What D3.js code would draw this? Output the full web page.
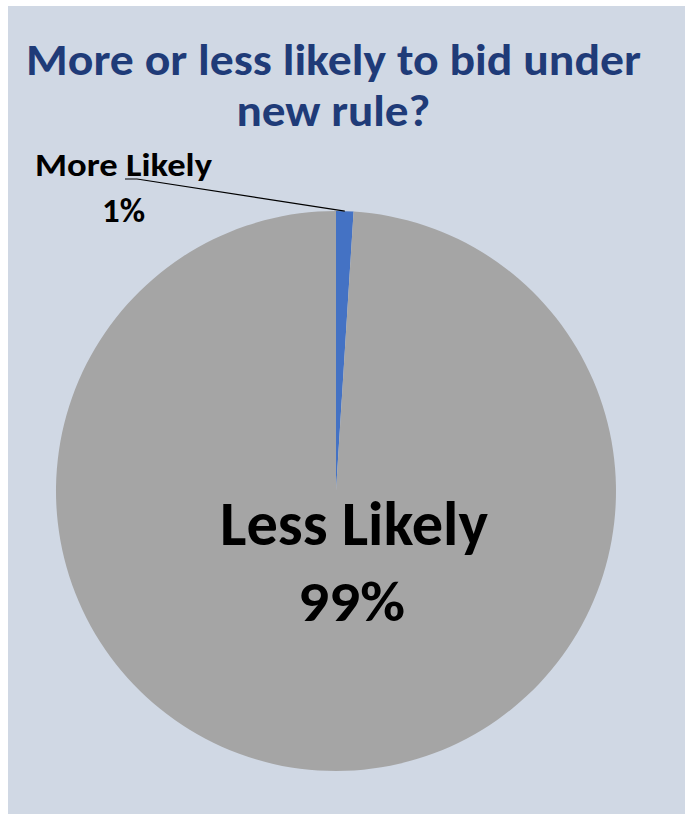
<!DOCTYPE html>
<html>
<head>
<meta charset="utf-8">
<script src="https://cdn.jsdelivr.net/npm/d3@7"></script>
<style>
  html, body { margin: 0; padding: 0; background: #ffffff; }
  svg { display: block; }
  text { font-family: Carlito, Calibri, "Open Sans", sans-serif; font-weight: bold; }
</style>
</head>
<body>
<svg id="chart" width="685" height="814"></svg>
<script>
const titleLines = ["More or less likely to bid under", "new rule?"];
const categories = ["More Likely", "Less Likely"];
const values = [1, 99];
const percentLabels = ["1%", "99%"];
const colors = ["#4472C4", "#A5A5A5"];

const svg = d3.select("#chart");
const W = 685, H = 814;

svg.append("rect")
  .attr("x", 8).attr("y", 6)
  .attr("width", W - 8).attr("height", H - 6)
  .attr("fill", "#D0D8E4");

// Title
const titleSpec = [
  { y: 75, width: 615, size: 45 },
  { y: 126, width: 194, size: 45 }
];
titleLines.forEach((t, i) => {
  svg.append("text")
    .attr("x", 333.5).attr("y", titleSpec[i].y)
    .attr("text-anchor", "middle")
    .attr("font-size", titleSpec[i].size)
    .attr("fill", "#1F3B78")
    .attr("textLength", titleSpec[i].width)
    .attr("lengthAdjust", "spacingAndGlyphs")
    .text(t);
});

// Pie
const cx = 336, cy = 491, r = 280;
const data = categories.map((c, i) => ({ cat: c, value: values[i], pct: percentLabels[i], color: colors[i] }));
const pie = d3.pie().value(d => d.value).sort(null);
const arcs = pie(data);
const arc = d3.arc().innerRadius(0).outerRadius(r);
const g = svg.append("g").attr("transform", `translate(${cx},${cy})`);
g.selectAll("path").data(arcs).enter().append("path")
  .attr("d", arc)
  .attr("fill", d => d.data.color);

// Leader line for small slice
const small = arcs[0];
const mid = (small.startAngle + small.endAngle) / 2;
const px = cx + r * Math.sin(mid), py = cy - r * Math.cos(mid);
svg.append("polyline")
  .attr("points", `${px},${py} 137,179 125,179`)
  .attr("fill", "none")
  .attr("stroke", "#000")
  .attr("stroke-width", 1.1);

// Small slice labels
svg.append("text")
  .attr("x", 123.5).attr("y", 176)
  .attr("text-anchor", "middle")
  .attr("font-size", 33)
  .attr("textLength", 177).attr("lengthAdjust", "spacingAndGlyphs")
  .attr("fill", "#000")
  .text(small.data.cat);
svg.append("text")
  .attr("x", 123.5).attr("y", 222)
  .attr("text-anchor", "middle")
  .attr("font-size", 35)
  .attr("textLength", 43).attr("lengthAdjust", "spacingAndGlyphs")
  .attr("fill", "#000")
  .text(small.data.pct);

// Big slice labels
const big = arcs[1];
svg.append("text")
  .attr("x", 354).attr("y", 545)
  .attr("text-anchor", "middle")
  .attr("font-size", 62)
  .attr("textLength", 268).attr("lengthAdjust", "spacingAndGlyphs")
  .attr("fill", "#000")
  .text(big.data.cat);
svg.append("text")
  .attr("x", 351.5).attr("y", 621)
  .attr("text-anchor", "middle")
  .attr("font-size", 56)
  .attr("textLength", 107).attr("lengthAdjust", "spacingAndGlyphs")
  .attr("fill", "#000")
  .text(big.data.pct);
</script>
</body>
</html>
